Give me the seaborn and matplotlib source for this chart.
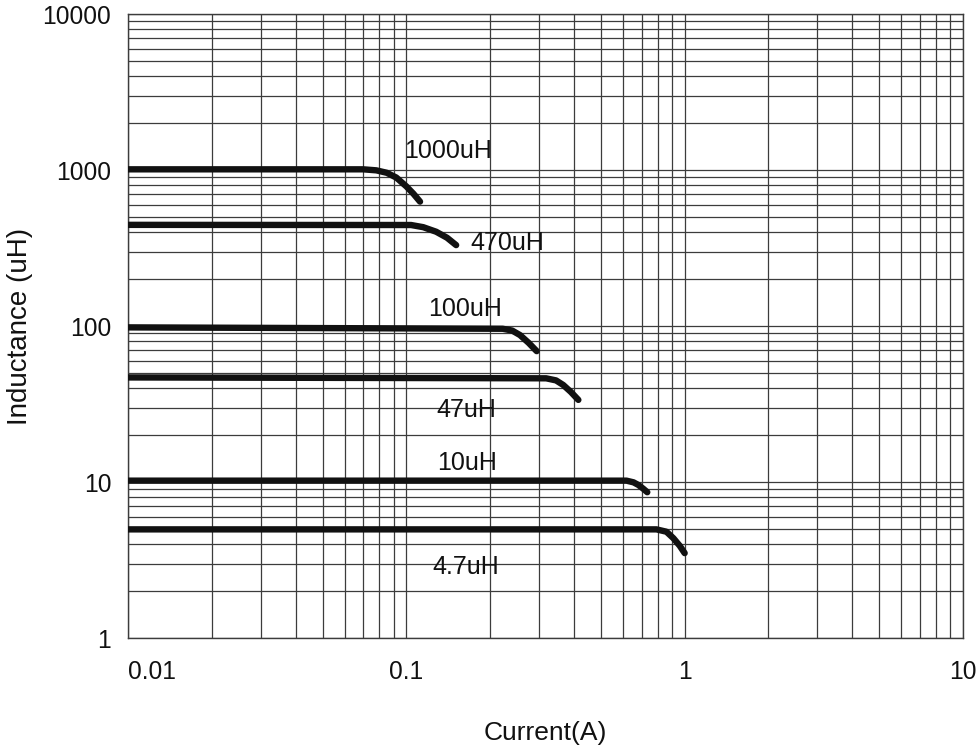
import numpy as np
import pandas as pd
import matplotlib
matplotlib.use("Agg")
import matplotlib.pyplot as plt
from matplotlib.ticker import FixedLocator, FixedFormatter, LogLocator, NullFormatter
import seaborn as sns

# Inductance vs DC current
parts = ["1000uH", "470uH", "100uH", "47uH", "10uH", "4.7uH"]

cur_1000 = [0.01, 0.07, 0.078, 0.085, 0.092, 0.1, 0.106, 0.112]
ind_1000 = [1010, 1010, 995, 960, 895, 785, 705, 627]

cur_470 = [0.01, 0.104, 0.115, 0.128, 0.14, 0.151]
ind_470 = [445, 444, 430, 402, 368, 330]

cur_100 = [0.01, 0.222, 0.24, 0.256, 0.275, 0.294]
ind_100 = [98, 96, 93.5, 87.5, 78, 69]

cur_47 = [0.01, 0.318, 0.345, 0.366, 0.39, 0.415]
ind_47 = [46.8, 46.2, 44.8, 41.9, 37.8, 33.6]

cur_10 = [0.01, 0.618, 0.655, 0.682, 0.71, 0.734]
ind_10 = [10.2, 10.2, 9.95, 9.57, 9.05, 8.6]

cur_4p7 = [0.01, 0.792, 0.86, 0.911, 0.96, 1.0]
ind_4p7 = [4.97, 4.97, 4.8, 4.36, 3.9, 3.5]

# curve labels (text, current, inductance)
label_text = ["1000uH", "470uH", "100uH", "47uH", "10uH", "4.7uH"]
label_x = [0.141, 0.23, 0.163, 0.164, 0.165, 0.164]
label_y = [1330, 340, 129, 29, 13.2, 2.85]

x_ticks = [0.01, 0.1, 1, 10]
x_ticklabels = ["0.01", "0.1", "1", "10"]
y_ticks = [1, 10, 100, 1000, 10000]
y_ticklabels = ["1", "10", "100", "1000", "10000"]

currents = [cur_1000, cur_470, cur_100, cur_47, cur_10, cur_4p7]
inductances = [ind_1000, ind_470, ind_100, ind_47, ind_10, ind_4p7]

frames = []
for name, c, l in zip(parts, currents, inductances):
    frames.append(pd.DataFrame({"Current": c, "Inductance": l, "Part": name}))
df = pd.concat(frames, ignore_index=True)

sns.set_style("white")
plt.rcParams["font.family"] = ["Liberation Sans", "DejaVu Sans"]

fig = plt.figure(figsize=(9.79, 7.51), dpi=100)
ax = fig.add_axes([128 / 979, 1 - 638 / 751, 835 / 979, 624 / 751])

sns.lineplot(
    data=df, x="Current", y="Inductance", hue="Part",
    palette=["#111111"] * len(parts), legend=False,
    sort=False, estimator=None, linewidth=4.6,
    solid_capstyle="round", ax=ax, zorder=5,
)

ax.set_xscale("log")
ax.set_yscale("log")
ax.set_xlim(0.01, 10)
ax.set_ylim(1, 10000)

ax.xaxis.set_major_locator(FixedLocator(x_ticks))
ax.xaxis.set_major_formatter(FixedFormatter(x_ticklabels))
ax.yaxis.set_major_locator(FixedLocator(y_ticks))
ax.yaxis.set_major_formatter(FixedFormatter(y_ticklabels))
ax.xaxis.set_minor_locator(LogLocator(base=10, subs=np.arange(2, 10)))
ax.yaxis.set_minor_locator(LogLocator(base=10, subs=np.arange(2, 10)))
ax.xaxis.set_minor_formatter(NullFormatter())
ax.yaxis.set_minor_formatter(NullFormatter())

ax.grid(True, which="both", color="#3c3c3c", linewidth=0.9)
for s in ax.spines.values():
    s.set_color("#3c3c3c")
    s.set_linewidth(1.0)

ax.tick_params(axis="x", which="both", length=0, pad=16, labelsize=17.7, colors="#111111")
ax.tick_params(axis="y", which="both", length=0, pad=12, labelsize=17.7, colors="#111111")
ax.get_xticklabels()[0].set_ha("left")

for t, x, y in zip(label_text, label_x, label_y):
    ax.text(x, y, t, ha="center", va="center", fontsize=18, color="#111111", zorder=6)

ax.set_xlabel("Current(A)", fontsize=19, color="#111111")
ax.set_ylabel("Inductance (uH)", fontsize=20, color="#111111")
ax.xaxis.label.set_va("center")
ax.yaxis.label.set_va("center")
ax.xaxis.set_label_coords(0.5, -0.152)
ax.yaxis.set_label_coords(-0.129, 0.5)

fig.savefig("out.png", dpi=100, facecolor="white")
